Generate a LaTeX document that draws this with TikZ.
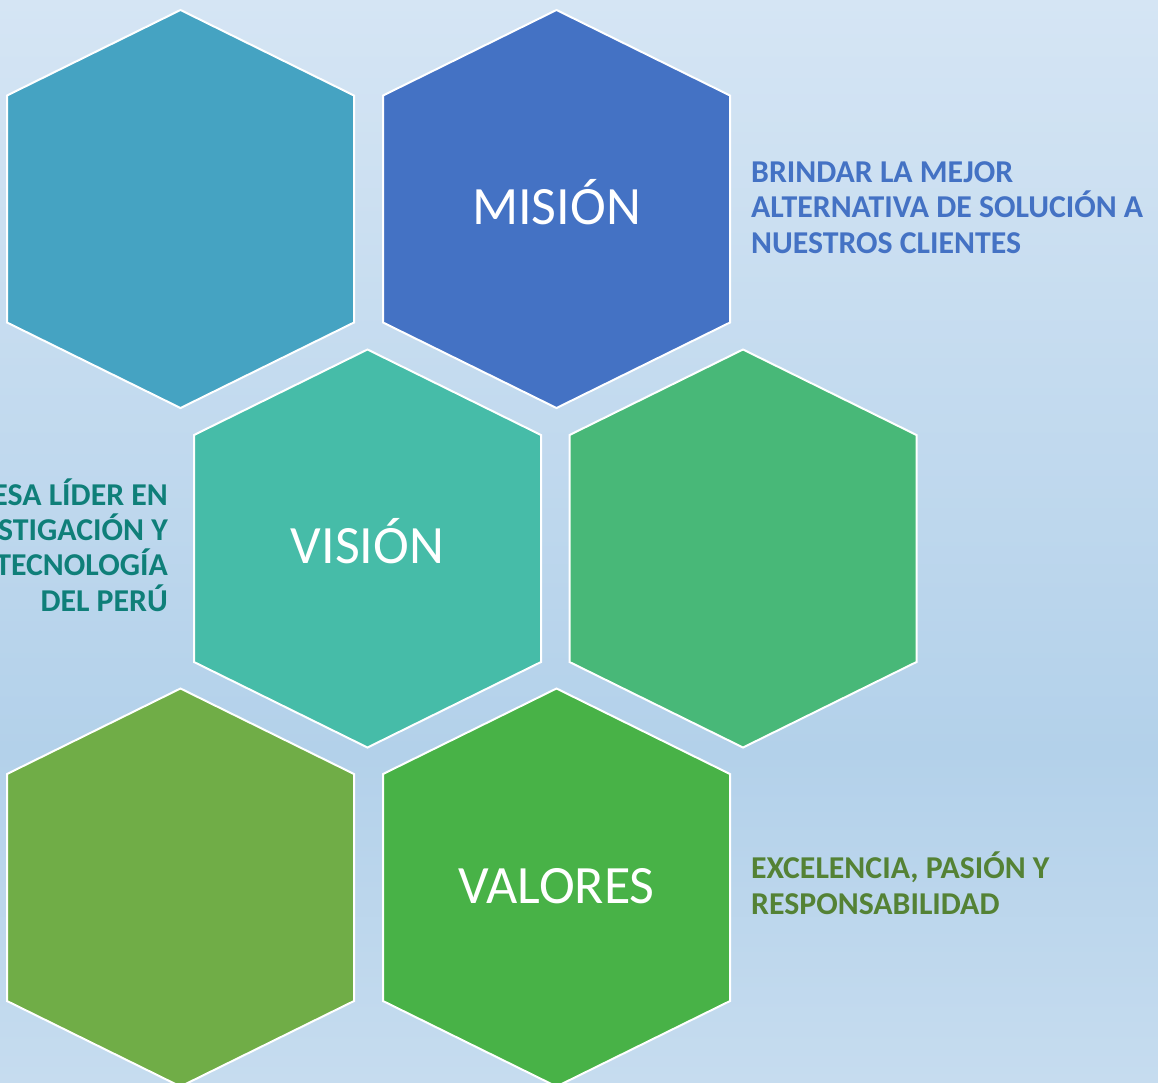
\documentclass[tikz,border=0pt]{standalone}
\usepackage{fontspec}
\setmainfont{Carlito}
\definecolor{bgtop}{HTML}{D5E5F4}
\definecolor{bgmid}{HTML}{B3D1EA}
\definecolor{bgbot}{HTML}{C6DCEF}
\definecolor{hexA}{HTML}{45A3C2}
\definecolor{hexB}{HTML}{4472C4}
\definecolor{hexC}{HTML}{46BCA8}
\definecolor{hexD}{HTML}{48B878}
\definecolor{hexE}{HTML}{70AD47}
\definecolor{hexF}{HTML}{48B247}
\definecolor{txtB}{HTML}{4472C4}
\definecolor{txtC}{HTML}{0F7F79}
\definecolor{txtF}{HTML}{548235}
\tikzset{
  hexline/.style={draw=white, line width=2pt, line join=miter},
  hexlabel/.style={text=white, font=\fontsize{54}{60}\selectfont, inner sep=0pt, anchor=base},
  sidetext/.style={font=\fontsize{31.8}{35.3}\selectfont\bfseries, inner sep=0pt},
}
\newcommand\drawhex[2]{%
  \path[hexline, fill=#2] (#1) ++(0,-199) -- ++(173.5,85.5) -- ++(0,227) -- ++(-173.5,85.5) -- ++(-173.5,-85.5) -- ++(0,-227) -- cycle;}
\begin{document}
\begin{tikzpicture}[x=1pt,y=-1pt]
\useasboundingbox (0,0) rectangle (1158,1082);
\begin{scope}[y=1pt]
\shade[top color=bgtop, bottom color=bgmid] (0,0) rectangle (1158,-752);
\shade[top color=bgmid, bottom color=bgbot] (0,-751) rectangle (1158,-1082);
\end{scope}
\begin{scope}
\clip (0,0) rectangle (1158,1082);
\coordinate (h1) at (180.5,209);
\coordinate (h2) at (556.5,209);
\coordinate (h3) at (367.5,548.5);
\coordinate (h4) at (743,548.5);
\coordinate (h5) at (180.5,887.5);
\coordinate (h6) at (556.5,887.5);
\drawhex{h1}{hexA}
\drawhex{h2}{hexB}
\drawhex{h3}{hexC}
\drawhex{h4}{hexD}
\drawhex{h5}{hexE}
\drawhex{h6}{hexF}
\end{scope}
\node[hexlabel] (mision) at (556.5,224) {MISIÓN};
\node[hexlabel] (vision) at (367.5,563) {VISIÓN};
\node[hexlabel] (valores) at (556.5,903) {VALORES};
\node[sidetext, text=txtB, anchor=base west, align=left] (tmision) at (751,253)
  {BRINDAR LA MEJOR\\ALTERNATIVA DE SOLUCIÓN A\\NUESTROS CLIENTES};
\node[sidetext, text=txtC, anchor=base east, align=right] (tvision) at (168,611)
  {ESA LÍDER EN\\STIGACIÓN Y\\TECNOLOGÍA\\DEL PERÚ};
\node[sidetext, text=txtF, anchor=base west, align=left] (tvalores) at (751,914)
  {EXCELENCIA, PASIÓN Y\\RESPONSABILIDAD};
\end{tikzpicture}
\end{document}
